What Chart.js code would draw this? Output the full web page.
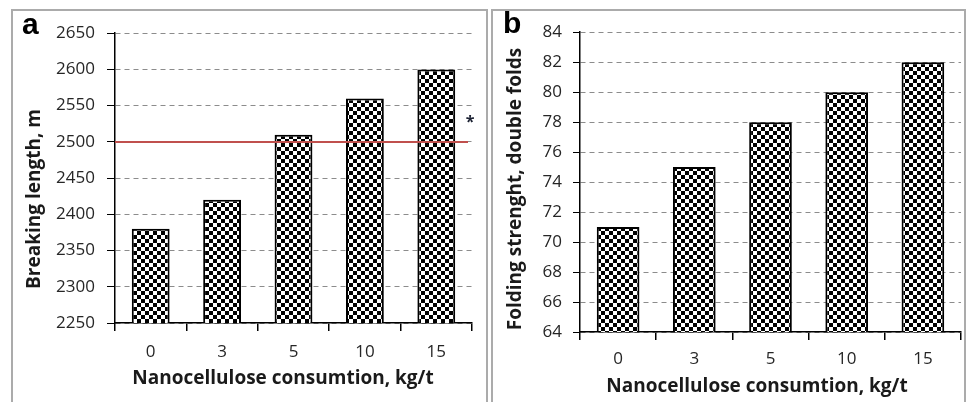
<!DOCTYPE html>
<html>
<head>
<meta charset="utf-8">
<script src="https://cdn.jsdelivr.net/npm/chart.js@4.4.1/dist/chart.umd.min.js"></script>
<style>
  body { margin: 0; background: #fff; width: 966px; height: 402px; overflow: hidden; position: relative; }
  .panel { position: absolute; border: 2px solid #ababab; box-sizing: border-box; }
  #pa { left: 11px; top: 9px; width: 477px; height: 410px; }
  #pb { left: 491px; top: 9px; width: 475px; height: 410px; }
  canvas { position: absolute; }
</style>
</head>
<body>
<div class="panel" id="pa"></div>
<div class="panel" id="pb"></div>
<canvas id="chartA" width="473" height="391" style="left:13px;top:11px"></canvas>
<canvas id="chartB" width="471" height="391" style="left:493px;top:11px"></canvas>
<script>
// data
const categories = ['0', '3', '5', '10', '15'];
const breakingLength = [2380, 2420, 2510, 2560, 2600];
const foldingStrength = [71, 75, 78, 80, 82];
const breakingTicks = [2250, 2300, 2350, 2400, 2450, 2500, 2550, 2600, 2650];
const foldingTicks = [64, 66, 68, 70, 72, 74, 76, 78, 80, 82, 84];
const breakingLimit = 2500;

Chart.defaults.font.family = '"Open Sans", sans-serif';
Chart.defaults.color = '#333';

// checkerboard fill like the excel pattern
function checker(canvasId) {
  const c = document.createElement('canvas');
  c.width = 8; c.height = 8;
  const g = c.getContext('2d');
  g.fillStyle = '#fff';
  g.fillRect(0, 0, 8, 8);
  g.fillStyle = '#000';
  g.fillRect(0, 0, 4, 4);
  g.fillRect(4, 4, 4, 4);
  return document.getElementById(canvasId).getContext('2d').createPattern(c, 'repeat');
}

// panel letter, axis titles, red limit line
const extras = {
  id: 'extras',
  afterDatasetsDraw(chart, args, o) {
    const {ctx, chartArea, scales} = chart;
    ctx.save();
    if (o.limit !== undefined) {
      const y = scales.y.getPixelForValue(o.limit);
      ctx.strokeStyle = '#c0504d';
      ctx.lineWidth = 2;
      ctx.beginPath();
      ctx.moveTo(chartArea.left, y);
      ctx.lineTo(chartArea.right - 4, y);
      ctx.stroke();
      ctx.fillStyle = '#1c2233';
      ctx.font = 'bold 16px "Open Sans"';
      ctx.textAlign = 'center';
      ctx.textBaseline = 'alphabetic';
      ctx.fillText('*', chartArea.right - 2, y - 15);
    }
    ctx.fillStyle = '#000';
    ctx.font = 'bold 30px "Liberation Sans"';
    ctx.textAlign = 'left';
    ctx.textBaseline = 'alphabetic';
    ctx.fillText(o.letter, o.letterX, o.letterY);

    ctx.fillStyle = '#1a1a1a';
    ctx.font = 'bold 19px "Open Sans"';
    ctx.textAlign = 'center';
    ctx.textBaseline = 'middle';
    ctx.fillText(o.xTitle, o.xTitleX, o.xTitleY);
    ctx.translate(o.yTitleX, o.yTitleY);
    ctx.rotate(-Math.PI / 2);
    ctx.fillText(o.yTitle, 0, 0);
    ctx.restore();
  }
};

function makeChart(id, values, ticks, lay, extra) {
  return new Chart(document.getElementById(id), {
    type: 'bar',
    data: {
      labels: categories,
      datasets: [{
        data: values,
        backgroundColor: checker(id),
        borderColor: '#000',
        borderWidth: 2,
        barPercentage: lay.bar,
        categoryPercentage: 1
      }]
    },
    options: {
      responsive: false,
      animation: false,
      devicePixelRatio: 1,
      events: [],
      layout: { padding: { left: 0, right: lay.right, top: lay.top, bottom: 0 } },
      plugins: { legend: { display: false }, tooltip: { enabled: false }, extras: extra },
      scales: {
        x: {
          afterFit(s) { s.height = lay.xh; },
          grid: { drawOnChartArea: false, tickLength: 8, tickColor: '#000', lineWidth: 1.5 },
          border: { color: '#000', width: 1.5 },
          ticks: { padding: lay.xpad, font: { size: 17 }, color: '#262626' }
        },
        y: {
          min: ticks[0],
          max: ticks[ticks.length - 1],
          afterFit(s) { s.width = lay.yw; },
          grid: { color: '#8c8c8c', lineWidth: 1, tickLength: lay.tick, tickColor: '#000' },
          border: { color: '#000', width: 1.5, dash: [5, 4] },
          ticks: {
            stepSize: ticks[1] - ticks[0],
            padding: lay.ypad,
            font: { size: 17 },
            color: '#262626',
            callback: v => String(v)
          }
        }
      }
    },
    plugins: [extras]
  });
}

makeChart('chartA', breakingLength, breakingTicks,
  { bar: 0.53, right: 14, top: 17, xh: 79, yw: 102, xpad: 11, ypad: 12, tick: 8 },
  { limit: breakingLimit, letter: 'a', letterX: 9, letterY: 23,
    xTitle: 'Nanocellulose consumtion, kg/t', xTitleX: 270, xTitleY: 368,
    yTitle: 'Breaking length, m', yTitleX: 22, yTitleY: 188 });

makeChart('chartB', foldingStrength, foldingTicks,
  { bar: 0.56, right: 3, top: 21, xh: 70, yw: 87, xpad: 9, ypad: 11, tick: 7 },
  { letter: 'b', letterX: 10, letterY: 22,
    xTitle: 'Nanocellulose consumtion, kg/t', xTitleX: 264, xTitleY: 376,
    yTitle: 'Folding strenght, double folds', yTitleX: 23, yTitleY: 178 });
</script>
</body>
</html>
